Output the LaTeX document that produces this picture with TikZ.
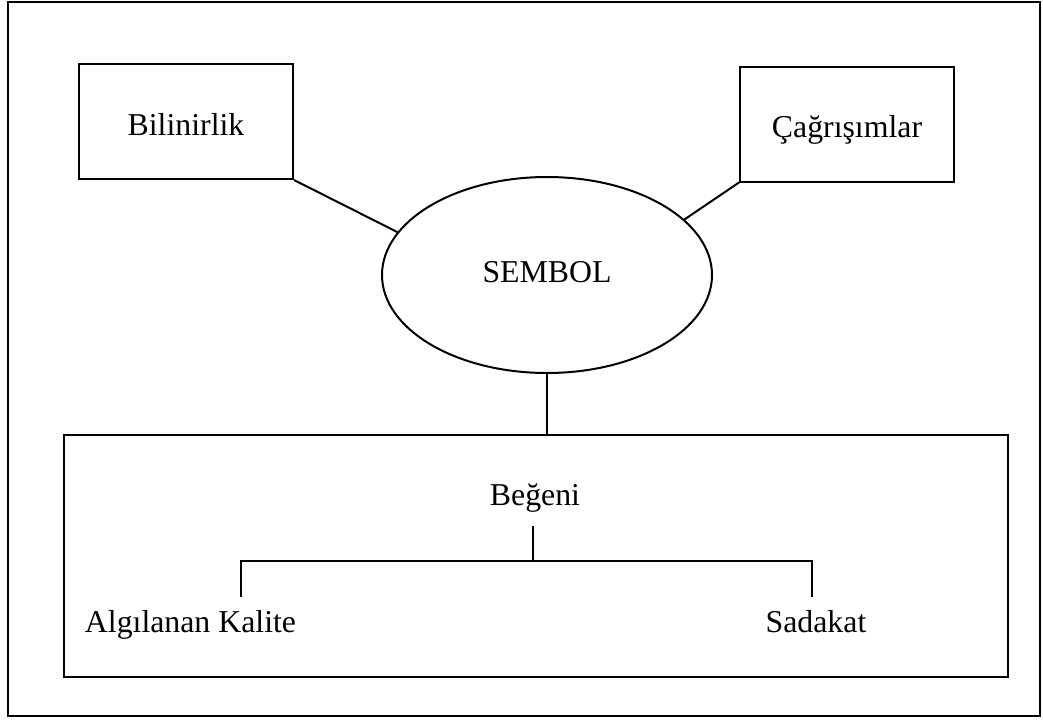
\documentclass[tikz,border=0pt]{standalone}
\usepackage{fontspec}
\setmainfont{Liberation Serif}
\usetikzlibrary{shapes.geometric}
\begin{document}
\begin{tikzpicture}[x=1pt,y=-1pt,
  every node/.style={font=\fontsize{31.8}{38}\selectfont},
  line/.style={draw=black,line width=2pt},
  conceptbox/.style={line,rectangle,inner sep=0pt,minimum width=214pt,minimum height=115pt,
    text height=27pt,text depth=0pt},
  symbolellipse/.style={line,ellipse,inner sep=0pt,minimum width=330pt,minimum height=196pt,
    text height=14pt,text depth=0pt},
  groupbox/.style={line,rectangle,inner sep=0pt,minimum width=944pt,minimum height=242pt},
  label/.style={inner sep=0pt,anchor=base}]
\useasboundingbox (0,0) rectangle (1043,720);
% outer frame
\draw[line] (8,2) rectangle (1040,716);

% concept nodes
\node[conceptbox] (bil) at (186,121.5) {Bilinirlik};
\node[conceptbox] (cag) at (847,124) {Çağrışımlar};
\node[symbolellipse] (sem) at (547,275) {SEMBOL};
\node[groupbox] (grp) at (536,556) {};

% contents of the lower group
\node[label] (beg) at (535,505) {Beğeni};
\node[label] (alg) at (190.5,632) {Algılanan Kalite};
\node[label] (sad) at (816,632) {Sadakat};

\coordinate (begbot) at (533,526);
\coordinate (join) at (533,561);
\coordinate (algtop) at (241,597);
\coordinate (sadtop) at (812,597);

% connectors
\draw[line] (bil.south east) -- (sem.164);
\draw[line] (cag.south west) -- (sem.22);
\draw[line] (sem.south) -- (sem.south |- grp.north);
\draw[line] (begbot) -- (join);
\draw[line] (algtop) -- (algtop |- join) -- (sadtop |- join) -- (sadtop);
\end{tikzpicture}
\end{document}
